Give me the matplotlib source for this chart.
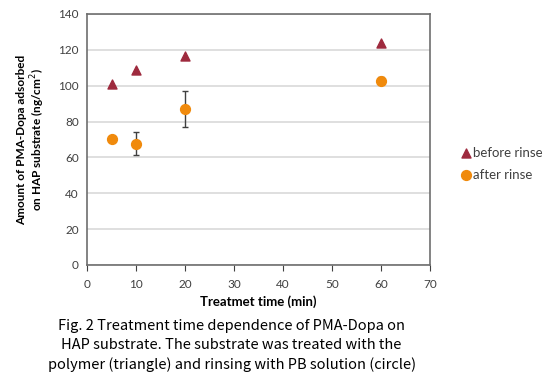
import numpy as np
import matplotlib
matplotlib.use("Agg")
import matplotlib.pyplot as plt

# data
time_before = [5, 10, 20, 60]
before_rinse = [101, 108.8, 116.5, 123.6]

time_after = [5, 10, 20, 60]
after_rinse = [70.5, 67.7, 87.1, 102.8]
after_err = [0, 6.3, 10.0, 2.0]

xticks = [0, 10, 20, 30, 40, 50, 60, 70]
yticks = [0, 20, 40, 60, 80, 100, 120, 140]

caption = ("Fig. 2 Treatment time dependence of PMA-Dopa on\n"
           "HAP substrate. The substrate was treated with the\n"
           "polymer (triangle) and rinsing with PB solution (circle)")

plt.rcParams['font.family'] = ['Lato', 'DejaVu Sans']

fig = plt.figure(figsize=(5.58, 3.81), dpi=100)
ax = fig.add_axes([0.156, 0.3045, 0.615, 0.659])

ax.errorbar(time_after, after_rinse, yerr=after_err, fmt='none',
            ecolor='#404040', elinewidth=1, capsize=2.5, capthick=1, zorder=2)
ax.scatter(time_before, before_rinse, marker='^', s=42, color='#9E2A3E',
           label='before rinse', zorder=3)
ax.scatter(time_after, after_rinse, marker='o', s=50, color='#F08A0C',
           label='after rinse', zorder=3)

ax.set_xlim(0, 70)
ax.set_ylim(0, 140)
ax.set_xticks(xticks)
ax.set_yticks(yticks)
ax.yaxis.grid(True, color='#D9D9D9', linewidth=1.2)
ax.set_axisbelow(True)
ax.tick_params(axis='y', length=0, labelsize=8.5, colors='#404040', pad=6)
ax.tick_params(axis='x', length=4, direction='out', labelsize=8.5,
               colors='#404040', pad=6)
for s in ax.spines.values():
    s.set_color('#6E6E6E')
    s.set_linewidth(1.2)

ax.set_xlabel('Treatmet time (min)', fontsize=9.5, fontweight='bold', labelpad=4)
ax.set_ylabel('Amount of PMA-Dopa adsorbed\non HAP substrate (ng/cm$^2$)',
              fontsize=8.5, fontweight='bold', labelpad=8, linespacing=1.1)

fig.legend(loc='center left', bbox_to_anchor=(0.80, 0.57), frameon=False,
           fontsize=9.5, handletextpad=-0.1, labelspacing=0.75,
           labelcolor='#404040', handlelength=1.2)

fig.text(0.415, 0.162, caption, ha='center', va='top', fontsize=10.5,
         linespacing=1.42, family=['Noto Sans CJK JP', 'DejaVu Sans'])

fig.savefig('out.png', dpi=100)
